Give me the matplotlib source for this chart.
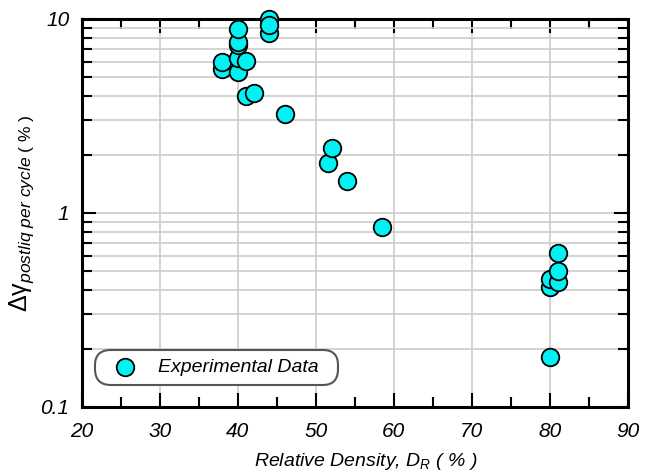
import numpy as np
import matplotlib
matplotlib.use('Agg')
import matplotlib.pyplot as plt
from matplotlib.ticker import LogLocator, NullFormatter, FixedLocator, FuncFormatter

plt.rcParams['font.family'] = ['Liberation Sans', 'DejaVu Sans']
plt.rcParams['mathtext.fontset'] = 'custom'
plt.rcParams['mathtext.rm'] = 'Liberation Sans'
plt.rcParams['mathtext.it'] = 'Liberation Sans:italic'

# relative density (%) and post-liquefaction strain per cycle (%)
dr = [38, 38, 40, 40, 40, 40, 40, 41, 41, 42, 44, 44, 44,
      46, 51.5, 52, 54, 58.5, 80, 80, 80, 81, 81, 81]
dgamma = [5.5, 6.0, 5.3, 6.3, 7.3, 7.6, 8.9, 6.1, 4.0, 4.17, 10.0, 8.5, 9.3,
          3.23, 1.82, 2.15, 1.47, 0.85, 0.18, 0.417, 0.455, 0.44, 0.50, 0.62]

fig = plt.figure(figsize=(6.54, 4.74), dpi=100)
ax = fig.add_axes([0.1254, 0.1414, 0.8346, 0.8186])

ax.set_yscale('log')
ax.set_xlim(20, 90)
ax.set_ylim(0.1, 10)

ax.scatter(dr, dgamma, s=160, c='#00f2f2', edgecolors='black', linewidths=1.3,
           zorder=3, label='Experimental Data  ', clip_on=False)

ax.set_xticks([20, 30, 40, 50, 60, 70, 80, 90])
ax.xaxis.set_minor_locator(FixedLocator([25, 35, 45, 55, 65, 75, 85]))
ax.yaxis.set_major_locator(FixedLocator([0.1, 1, 10]))
ax.yaxis.set_major_formatter(FuncFormatter(lambda v, p: '%g' % v))
ax.yaxis.set_minor_locator(LogLocator(base=10, subs=np.arange(2, 10)))
ax.yaxis.set_minor_formatter(NullFormatter())

ax.grid(True, which='major', axis='x', color='#cccccc', lw=1.2, zorder=0)
ax.grid(True, which='both', axis='y', color='#cccccc', lw=1.2, zorder=0)

ax.tick_params(which='both', direction='in', top=True, right=True, width=1.5,
               labelsize=15)
ax.tick_params(which='major', length=10)
ax.tick_params(which='minor', length=7)
ax.tick_params(axis='x', which='major', pad=11)
ax.tick_params(axis='y', which='major', pad=9)
for lab in ax.get_xticklabels() + ax.get_yticklabels():
    lab.set_fontstyle('italic')

for sp in ax.spines.values():
    sp.set_linewidth(2.2)

ax.set_xlabel(r'Relative Density, $\mathit{D_R}$ ( % )', fontsize=14,
              fontstyle='italic', labelpad=7)
ax.xaxis.label.set_x(0.52)
ax.set_ylabel(r'$\mathrm{\Delta\gamma}_{\mathit{postliq\ per\ cycle\ (\ \%\ )}}$',
              fontsize=18, labelpad=3)

leg = ax.legend(loc='lower left', bbox_to_anchor=(0.024, 0.057), fontsize=14,
                frameon=True, fancybox=True, borderpad=0.45, handletextpad=0.6,
                borderaxespad=0, handlelength=2.2, markerscale=1.0)
frame = leg.get_frame()
frame.set_boxstyle('round', pad=0, rounding_size=0.8)
frame.set_edgecolor('#555555')
frame.set_linewidth(1.5)
frame.set_alpha(1)
for t in leg.get_texts():
    t.set_fontstyle('italic')

fig.savefig('out.png', dpi=100)
